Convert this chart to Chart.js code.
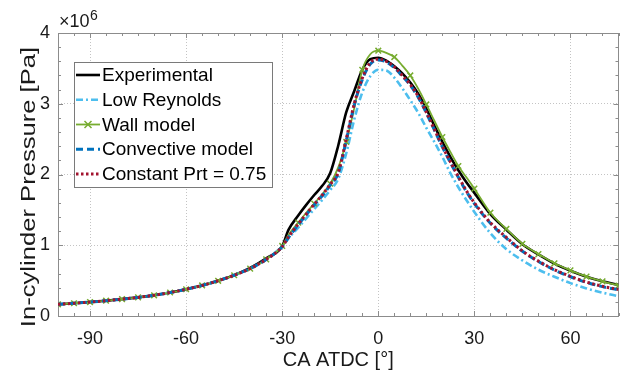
<!DOCTYPE html>
<html>
<head>
<meta charset="utf-8">
<script src="https://cdn.jsdelivr.net/npm/chart.js@4.4.1/dist/chart.umd.min.js"></script>
<style>
  html, body { margin: 0; padding: 0; background: #ffffff; }
  #wrap { width: 624px; height: 376px; position: relative; }
</style>
</head>
<body>
<div id="wrap"><canvas id="c" width="624" height="376"></canvas></div>
<script>
// ---------- data (pressure in units of 10^6 Pa) ----------
const crankAngles = [-100, -95, -90, -85, -80, -75, -70, -65, -60, -55, -50, -45, -40, -35, -30, -28, -25, -22.5, -20, -17.5, -15, -12.5, -10, -7.5, -5, -2.5, 0, 2.5, 5, 7.5, 10, 12.5, 15, 17.5, 20, 22.5, 25, 27.5, 30, 35, 40, 45, 50, 55, 60, 65, 70, 75];

const experimental = [0.165, 0.18, 0.197, 0.216, 0.238, 0.263, 0.293, 0.332, 0.378, 0.432, 0.498, 0.578, 0.68, 0.815, 0.99, 1.22, 1.42, 1.57, 1.71, 1.84, 2.02, 2.41, 2.88, 3.18, 3.48, 3.63, 3.65, 3.61, 3.53, 3.43, 3.30, 3.14, 2.93, 2.69, 2.46, 2.25, 2.06, 1.89, 1.74, 1.44, 1.22, 1.015, 0.87, 0.74, 0.64, 0.555, 0.49, 0.44];

const lowReynolds = [0.165, 0.18, 0.197, 0.216, 0.238, 0.263, 0.293, 0.332, 0.378, 0.432, 0.498, 0.576, 0.67, 0.80, 0.99, 1.10, 1.25, 1.38, 1.51, 1.64, 1.78, 1.94, 2.30, 2.78, 3.16, 3.39, 3.48, 3.47, 3.37, 3.22, 3.05, 2.87, 2.66, 2.46, 2.25, 2.02, 1.82, 1.64, 1.47, 1.17, 0.945, 0.785, 0.655, 0.555, 0.465, 0.39, 0.33, 0.28];

const wallModel = [0.165, 0.18, 0.197, 0.216, 0.238, 0.263, 0.293, 0.332, 0.378, 0.432, 0.498, 0.576, 0.67, 0.80, 0.99, 1.15, 1.32, 1.46, 1.59, 1.72, 1.87, 2.10, 2.46, 2.94, 3.48, 3.70, 3.75, 3.72, 3.66, 3.54, 3.40, 3.21, 2.99, 2.76, 2.53, 2.32, 2.12, 1.96, 1.80, 1.46, 1.23, 1.02, 0.875, 0.745, 0.645, 0.557, 0.49, 0.43];

const convectiveModel = [0.165, 0.18, 0.197, 0.216, 0.238, 0.263, 0.293, 0.332, 0.378, 0.432, 0.498, 0.576, 0.67, 0.80, 0.98, 1.11, 1.29, 1.43, 1.57, 1.70, 1.85, 2.02, 2.48, 2.98, 3.34, 3.56, 3.62, 3.59, 3.51, 3.39, 3.26, 3.09, 2.87, 2.63, 2.39, 2.17, 1.96, 1.76, 1.59, 1.31, 1.10, 0.915, 0.77, 0.65, 0.555, 0.475, 0.415, 0.37];

const constantPrt = [0.165, 0.18, 0.197, 0.216, 0.238, 0.263, 0.293, 0.332, 0.378, 0.432, 0.498, 0.576, 0.67, 0.80, 0.98, 1.12, 1.30, 1.44, 1.58, 1.71, 1.86, 2.03, 2.50, 3.00, 3.36, 3.58, 3.63, 3.60, 3.52, 3.40, 3.27, 3.10, 2.88, 2.64, 2.40, 2.18, 1.97, 1.77, 1.60, 1.32, 1.11, 0.92, 0.775, 0.655, 0.56, 0.48, 0.42, 0.375];

const seriesLabels = ['Experimental', 'Low Reynolds', 'Wall model', 'Convective model', 'Constant Prt = 0.75'];
const xTickValues = [-90, -60, -30, 0, 30, 60];
const yTickValues = [0, 1, 2, 3, 4];
const xTitle = 'CA ATDC [°]';
const yTitle = 'In-cylinder Pressure [Pa]';
const exponentBase = '×10';
const exponentPower = '6';

// ---------- chart ----------
const FONT = "'Liberation Sans', Arial, Helvetica, sans-serif";
const AXIS_COLOR = '#8c8c8c';
const TEXT_COLOR = '#1a1a1a';

const toPoints = arr => crankAngles.map((x, i) => ({ x: x, y: arr[i] }));

const datasets = [
  { label: seriesLabels[0], data: toPoints(experimental), borderColor: '#000000', borderWidth: 2.6, pointRadius: 0, order: 4 },
  { label: seriesLabels[1], data: toPoints(lowReynolds), borderColor: '#4DBEEE', borderWidth: 2.6, borderDash: [7, 3, 2, 3], pointRadius: 0, order: 3 },
  { label: seriesLabels[2], data: toPoints(wallModel), borderColor: '#77AC30', borderWidth: 1.8, pointStyle: 'crossRot',
    pointRadius: ctx => (ctx.raw && Math.abs(ctx.raw.x % 5) < 1e-9) ? 4 : 0,
    pointBorderColor: '#77AC30', pointBackgroundColor: '#77AC30', pointBorderWidth: 1.5, order: 2 },
  { label: seriesLabels[3], data: toPoints(convectiveModel), borderColor: '#0072BD', borderWidth: 3, borderDash: [7, 4], pointRadius: 0, order: 1 },
  { label: seriesLabels[4], data: toPoints(constantPrt), borderColor: '#A2142F', borderWidth: 3, borderDash: [2.5, 2.5], pointRadius: 0, order: 0 }
];

const decor = {
  id: 'decor',
  beforeDatasetsDraw(chart) {
    const { ctx, chartArea: a, scales: { x, y } } = chart;
    ctx.save();
    ctx.strokeStyle = AXIS_COLOR;
    ctx.lineWidth = 1;
    ctx.setLineDash([]);
    ctx.beginPath();
    for (let v = -100; v <= 75; v += 5) {
      const px = Math.round(x.getPixelForValue(v)) + 0.5;
      const len = xTickValues.includes(v) ? 5 : 3;
      ctx.moveTo(px, a.bottom); ctx.lineTo(px, a.bottom - len);
      ctx.moveTo(px, a.top); ctx.lineTo(px, a.top + len);
    }
    for (let k = 0; k <= 20; k++) {
      const py = Math.round(y.getPixelForValue(k * 0.2)) + 0.5;
      const len = (k % 5 === 0) ? 5 : 3;
      ctx.moveTo(a.left, py); ctx.lineTo(a.left + len, py);
      ctx.moveTo(a.right, py); ctx.lineTo(a.right - len, py);
    }
    ctx.stroke();
    ctx.strokeRect(Math.round(a.left) + 0.5, Math.round(a.top) + 0.5, Math.round(a.right - a.left) - 1, Math.round(a.bottom - a.top));
    ctx.restore();
  },
  afterDraw(chart) {
    const { ctx } = chart;
    ctx.save();
    // exponent label
    ctx.fillStyle = TEXT_COLOR;
    ctx.textBaseline = 'alphabetic';
    ctx.textAlign = 'left';
    ctx.font = '18px ' + FONT;
    ctx.fillText(exponentBase, 59, 27);
    const w = ctx.measureText(exponentBase).width;
    ctx.font = '14px ' + FONT;
    ctx.fillText(exponentPower, 59 + w + 0.5, 20);
    // y title (stretched along its length like the reference)
    ctx.save();
    ctx.translate(34.5, 187);
    ctx.rotate(-Math.PI / 2);
    ctx.scale(1.28, 1);
    ctx.font = '20px ' + FONT;
    ctx.textAlign = 'center';
    ctx.fillText(yTitle, 0, 0);
    ctx.restore();
    // legend
    const bx = 74.5, by = 62.5, bw = 198, bh = 125;
    ctx.fillStyle = '#ffffff';
    ctx.fillRect(bx, by, bw, bh);
    ctx.strokeStyle = '#7a7a7a';
    ctx.lineWidth = 1;
    ctx.setLineDash([]);
    ctx.strokeRect(bx, by, bw, bh);
    chart.data.datasets.forEach((ds, i) => {
      const cy = 75 + i * 24.75;
      ctx.save();
      ctx.strokeStyle = ds.borderColor;
      ctx.lineWidth = ds.borderWidth;
      ctx.setLineDash(ds.borderDash || []);
      ctx.beginPath();
      ctx.moveTo(76, cy); ctx.lineTo(100, cy);
      ctx.stroke();
      if (ds.pointStyle === 'crossRot') {
        ctx.setLineDash([]);
        ctx.lineWidth = 1.5;
        const r = 3.5;
        ctx.beginPath();
        ctx.moveTo(88 - r, cy - r); ctx.lineTo(88 + r, cy + r);
        ctx.moveTo(88 - r, cy + r); ctx.lineTo(88 + r, cy - r);
        ctx.stroke();
      }
      ctx.restore();
      ctx.fillStyle = '#000000';
      ctx.font = '19px ' + FONT;
      ctx.textAlign = 'left';
      ctx.textBaseline = 'middle';
      ctx.fillText(ds.label, 102, cy + 1);
    });
    ctx.restore();
  }
};

new Chart(document.getElementById('c'), {
  type: 'line',
  data: { datasets: datasets },
  options: {
    responsive: false,
    animation: false,
    events: [],
    devicePixelRatio: 1,
    layout: { padding: { top: 33, right: 4, bottom: 0, left: 0 } },
    elements: { line: { cubicInterpolationMode: 'monotone', fill: false } },
    plugins: { legend: { display: false }, tooltip: { enabled: false }, title: { display: false } },
    scales: {
      x: {
        type: 'linear', min: -100, max: 75,
        afterBuildTicks: s => { s.ticks = xTickValues.map(v => ({ value: v })); },
        afterFit: s => { s.height = 60; },
        grid: { color: '#c4c4c4', lineWidth: 1, drawTicks: false },
        border: { display: false, dash: [1, 2] },
        ticks: { padding: 12, color: TEXT_COLOR, font: { family: FONT, size: 18 }, maxRotation: 0 },
        title: { display: true, text: xTitle, color: TEXT_COLOR, font: { family: FONT, size: 20 }, padding: { top: 0, bottom: 4 } }
      },
      y: {
        type: 'linear', min: 0, max: 4,
        afterBuildTicks: s => { s.ticks = yTickValues.map(v => ({ value: v })); },
        afterFit: s => { s.width = 58; },
        grid: { color: '#c4c4c4', lineWidth: 1, drawTicks: false },
        border: { display: false, dash: [1, 2] },
        ticks: { padding: 8, color: TEXT_COLOR, font: { family: FONT, size: 18 } },
        title: { display: false }
      }
    }
  },
  plugins: [decor]
});
</script>
</body>
</html>
